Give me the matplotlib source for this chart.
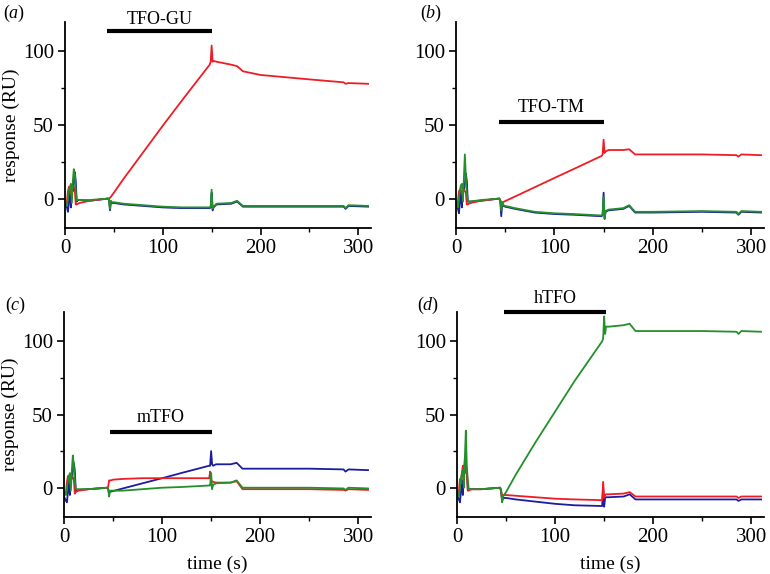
import matplotlib
matplotlib.use("Agg")
import matplotlib.pyplot as plt
from matplotlib.ticker import MultipleLocator

plt.rcParams['font.family'] = ['Liberation Serif', 'DejaVu Serif']
plt.rcParams['mathtext.fontset'] = 'custom'
plt.rcParams['mathtext.rm'] = 'Liberation Serif'
plt.rcParams['mathtext.it'] = 'Liberation Serif:italic'

# common time grid (s)
T = [0, 2, 3, 4, 5, 6, 7, 8, 9, 10, 11, 12, 13, 15, 25, 44,
     45, 46, 47, 48, 50, 60, 80, 100, 120, 148,
     149, 150, 151, 152, 155, 170, 176, 182, 200, 250,
     285, 287, 290, 310]

# panel (a) TFO-GU
A_BLUE = [-4, -6, -9, -2, 5, -6, 8, 5, 10, 18, 12, -2, -1, -1, -1.5, 0,
          -1, -8, -2, -3, -3, -4, -5, -6, -6.5, -6.5,
          -6, 4, -8, -6, -4, -3.5, -2, -5.5, -5.5, -5.5,
          -5.5, -7, -5, -5.5]
A_RED = [-4, -2, 5, 8, 6, 3, 7, 8, 8, 6, -4, -4, -3.5, -3, -1.5, 0,
         0, 0.5, 1.2, 2.2, 4, 13.5, 31.5, 49.5, 67, 91,
         93, 104, 93, 93.5, 93, 91, 90, 86.5, 84, 81,
         79, 78, 78.5, 78]
A_GREEN = [-3, -5, 0, 5, 8, 10, -3, 12, 20, 17, 5, -1, -1, -1, -1, 0,
           -1, -7, -1.5, -2.5, -2.5, -3.5, -4.5, -5.5, -6, -6,
           -5.5, 6, -7, -5.5, -3.5, -3, -1.5, -5, -5, -5,
           -5, -6.5, -4.5, -5]

# panel (b) TFO-TM
B_BLUE = [-4, -7, -10, -2, 5, -6, 8, 5, 10, 17, 12, -2, -2, -2, -1.5, 0,
          -2, -12, -3, -5, -5.5, -7, -9.5, -10.5, -11, -12,
          -11, 4, -13, -9, -8, -7, -5, -9.5, -9.5, -9,
          -9.5, -11, -9, -9.5]
B_RED = [-4, -2, 5, 6, 5, 3, 6, 6, 5, 4, -4, -4, -3.5, -3, -1.5, 0,
         -1, -3, -2.7, -2.4, -1.7, 1.4, 7.7, 14, 20.2, 29,
         30, 40, 31, 32, 33, 33, 33.5, 30, 30, 30,
         29.5, 28.5, 30, 29.5]
B_GREEN = [-3, -6, 0, 6, 9, 10, -2, 14, 30, 15, 4, -2, -2, -2, -1, 0,
           -1.5, -8, -2.5, -4.5, -5, -6.5, -9, -10, -10.5, -11.5,
           -10.5, 1, -14, -8.5, -7.5, -6.5, -4.5, -9, -9, -8.5,
           -9, -10.5, -8.5, -9]

# panel (c) mTFO
C_BLUE = [-6, -9, -10, -3, 5, -5, 8, 6, 12, 17, 12, -2, -1.5, -1.5, -1, 0,
          -1, -3, -2.8, -2.6, -2.3, -0.5, 3, 6.5, 10.1, 15,
          15, 25, 16, 15, 16, 16, 17, 13, 13, 13,
          12.5, 11, 12.5, 12]
C_RED = [-5, -3, 4, 8, 7, 3, 7, 8, 7, 6, -4, -3, -2.5, -2, -1, 0,
         0.5, 5, 5, 5, 5.5, 6, 6.5, 6.5, 6.5, 6.5,
         11, 4, 4.5, 4, 3.5, 3.5, 4.5, -1, -1, -1,
         -1.5, -2, -1, -1.5]
C_GREEN = [-3, -5, 0, 5, 8, 10, -2, 12, 22, 16, 5, -1, -1, -1, -1, 0,
           -1, -6, -2, -2, -2, -2, -1, 0, 0.5, 1.5,
           1.5, 10, -1, 2, 3, 3.5, 5, 0, 0, 0,
           -0.5, -1.5, 0, -0.5]

# panel (d) hTFO
D_BLUE = [-5, -8, -10, -3, 5, -5, 10, 17, 15, 12, -1, -1, -1, -1, -1, 0,
          -2, -9, -7, -7, -7, -8, -9.5, -11, -12, -12.5,
          0, -13, -7, -6.5, -6.5, -6, -4.5, -8, -8, -8,
          -8, -9, -8, -8]
D_RED = [-4, -2, 6, 3, 10, 15, 5, 20, 10, 12, -2, -2, -1.5, -1, -1, 0,
         -2, -8, -5, -5, -5, -5.5, -6.5, -7.5, -8, -8.5,
         4, -7, -5, -4.5, -4.5, -4, -3, -6, -6, -6,
         -6, -7, -6, -6]
D_GREEN = [-3, -6, 0, 6, 10, 12, 0, 20, 39, 15, 5, -1, -1, -1, -1, 0,
           -3, -10, -6, -5, -3, 9, 31, 52, 73, 100,
           102, 117, 105, 110, 110, 111, 112, 107, 107, 107,
           106.5, 105, 107, 106.5]

PANEL_LABELS = ['a', 'b', 'c', 'd']
INJECT_NAMES = ['TFO-GU', 'TFO-TM', 'mTFO', 'hTFO']
BAR_START = [43, 44, 47, 48]
BAR_END = [150, 150, 151, 152]
BAR_Y = [114, 52, 38, 120]
NAME_Y = [122, 62, 48, 129]

SERIES = [
    (A_BLUE, A_RED, A_GREEN),
    (B_BLUE, B_RED, B_GREEN),
    (C_BLUE, C_RED, C_GREEN),
    (D_BLUE, D_RED, D_GREEN),
]

BLUE = '#1c1ca0'
RED = '#ee1c25'
GREEN = '#23902a'

W, H = 770, 574
fig = plt.figure(figsize=(W / 100, H / 100), dpi=100)

# axes rectangles in pixel coords: left, right, top, bottom
rects = [(65, 371, 22, 228), (456, 764, 22, 228),
         (64, 371, 312, 517), (457, 764, 312, 517)]
label_pos = [(3, 13), (420, 13), (5, 305), (417, 305)]

for i, (l, r, t, b) in enumerate(rects):
    ax = fig.add_axes([l / W, 1 - b / H, (r - l) / W, (b - t) / H])
    blue, red, green = SERIES[i]
    ax.plot(T, blue, color=BLUE, lw=1.3)
    ax.plot(T, red, color=RED, lw=1.3)
    ax.plot(T, green, color=GREEN, lw=1.3)
    ax.set_xlim(0, 313)
    ax.set_ylim(-20, 120)
    for s in ['top', 'right']:
        ax.spines[s].set_visible(False)
    for s in ['left', 'bottom']:
        ax.spines[s].set_linewidth(1.3)
    ax.set_xticks([0, 100, 200, 300])
    ax.set_yticks([0, 50, 100])
    ax.xaxis.set_minor_locator(MultipleLocator(50))
    ax.yaxis.set_minor_locator(MultipleLocator(25))
    ax.tick_params(which='major', direction='out', length=5, width=1.2,
                   labelsize=15, pad=3)
    ax.tick_params(which='minor', direction='out', length=3, width=1.0)
    ax.plot([BAR_START[i], BAR_END[i]], [BAR_Y[i], BAR_Y[i]], color='black',
            lw=3, solid_capstyle='butt', clip_on=False)
    ax.text((BAR_START[i] + BAR_END[i]) / 2, NAME_Y[i], INJECT_NAMES[i],
            ha='center', va='center', fontsize=13, clip_on=False)
    if i in (0, 2):
        ax.set_ylabel('response (RU)', fontsize=14, labelpad=2)
    if i in (2, 3):
        ax.set_xlabel('time (s)', fontsize=14, labelpad=6)
    lx, ly = label_pos[i]
    fig.text(lx / W, 1 - ly / H, r'($\mathit{%s}$)' % PANEL_LABELS[i],
             ha='left', va='center', fontsize=13)

fig.savefig('out.png', dpi=100)
